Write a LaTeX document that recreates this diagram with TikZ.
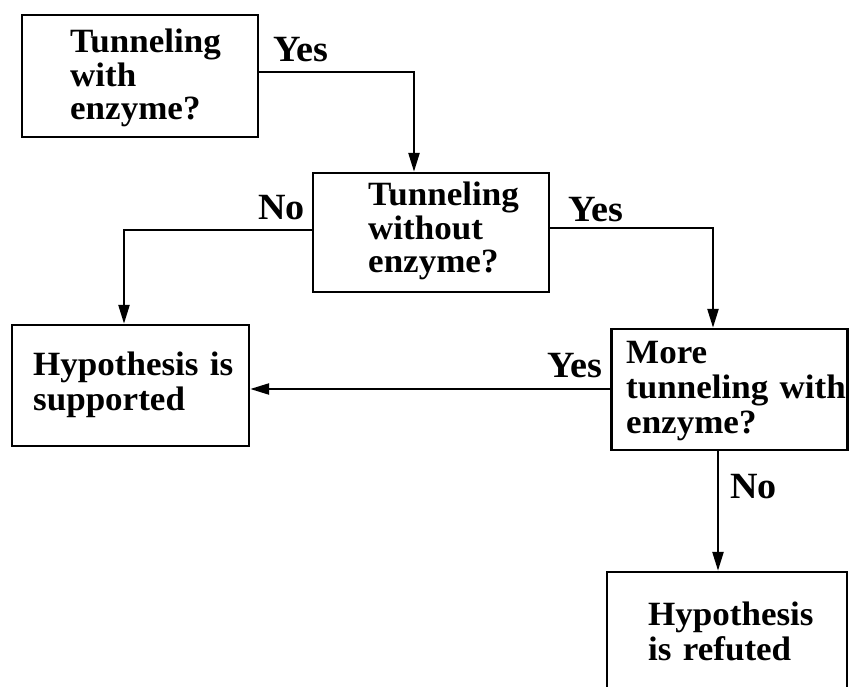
\documentclass[tikz,border=0pt]{standalone}
\usepackage{fontspec}
\setmainfont{Liberation Serif}[FakeStretch=1.03]
\usetikzlibrary{arrows.meta}
\begin{document}
\begin{tikzpicture}[x=1pt,y=-1pt,
  box/.style={draw,line width=2.4pt,inner sep=0pt},
  txt/.style={anchor=base west,inner sep=0pt,text width=240pt,align=left,
    font=\fontsize{34}{35}\selectfont\bfseries},
  txtb/.style={txt,font=\fontsize{34}{33.5}\selectfont\bfseries},
  lbl/.style={anchor=base west,inner sep=0pt,font=\fontsize{37}{37}\selectfont\bfseries},
  arr/.style={line width=2.4pt,-{Triangle[length=19pt,width=11pt]}}]
\clip (0,0) rectangle (849,687);
% boxes
\node[box,minimum width=236pt,minimum height=122pt] (b1) at (140,76) {};
\node[box,minimum width=236pt,minimum height=119pt] (b2) at (431,232.5) {};
\node[box,minimum width=237pt,minimum height=121pt] (sup) at (130.5,385.5) {};
\node[box,minimum width=236pt,minimum height=121pt] (b3) at (729.5,389.5) {};
\node[box,minimum width=240pt,minimum height=124pt] (b4) at (727,634) {};
% box texts
\node[txtb] (t1) at (70,53) {Tunneling\\with\\enzyme?};
\node[txtb] (t2) at (368,206) {Tunneling\\without\\enzyme?};
\node[txt] (t3) at (33,375) {Hypothesis is\\supported};
\node[txt] (t4) at (626,363) {More\\tunneling with\\enzyme?};
\node[txt] (t5) at (648,625) {Hypothesis\\is refuted};
% labels
\node[lbl] (y1) at (273,62) {Yes};
\node[lbl] (n1) at (258,220) {No};
\node[lbl] (y2) at (568,222) {Yes};
\node[lbl] (y3) at (547,377) {Yes};
\node[lbl] (n2) at (730,498) {No};
% connectors
\coordinate (k1) at (414,72);
\coordinate (k2) at (124,230);
\coordinate (k3) at (713,228);
\coordinate (k4) at (0,389);
\coordinate (k5) at (718,0);
\draw[arr] (b1.east |- k1) -- (k1) -- (b2.north -| k1);
\draw[arr] (b2.west |- k2) -- (k2) -- (sup.north -| k2);
\draw[arr] (b2.east |- k3) -- (k3) -- (b3.north -| k3);
\draw[arr] (b3.west |- k4) -- (sup.east |- k4);
\draw[arr] (b3.south -| k5) -- (b4.north -| k5);
\end{tikzpicture}
\end{document}
